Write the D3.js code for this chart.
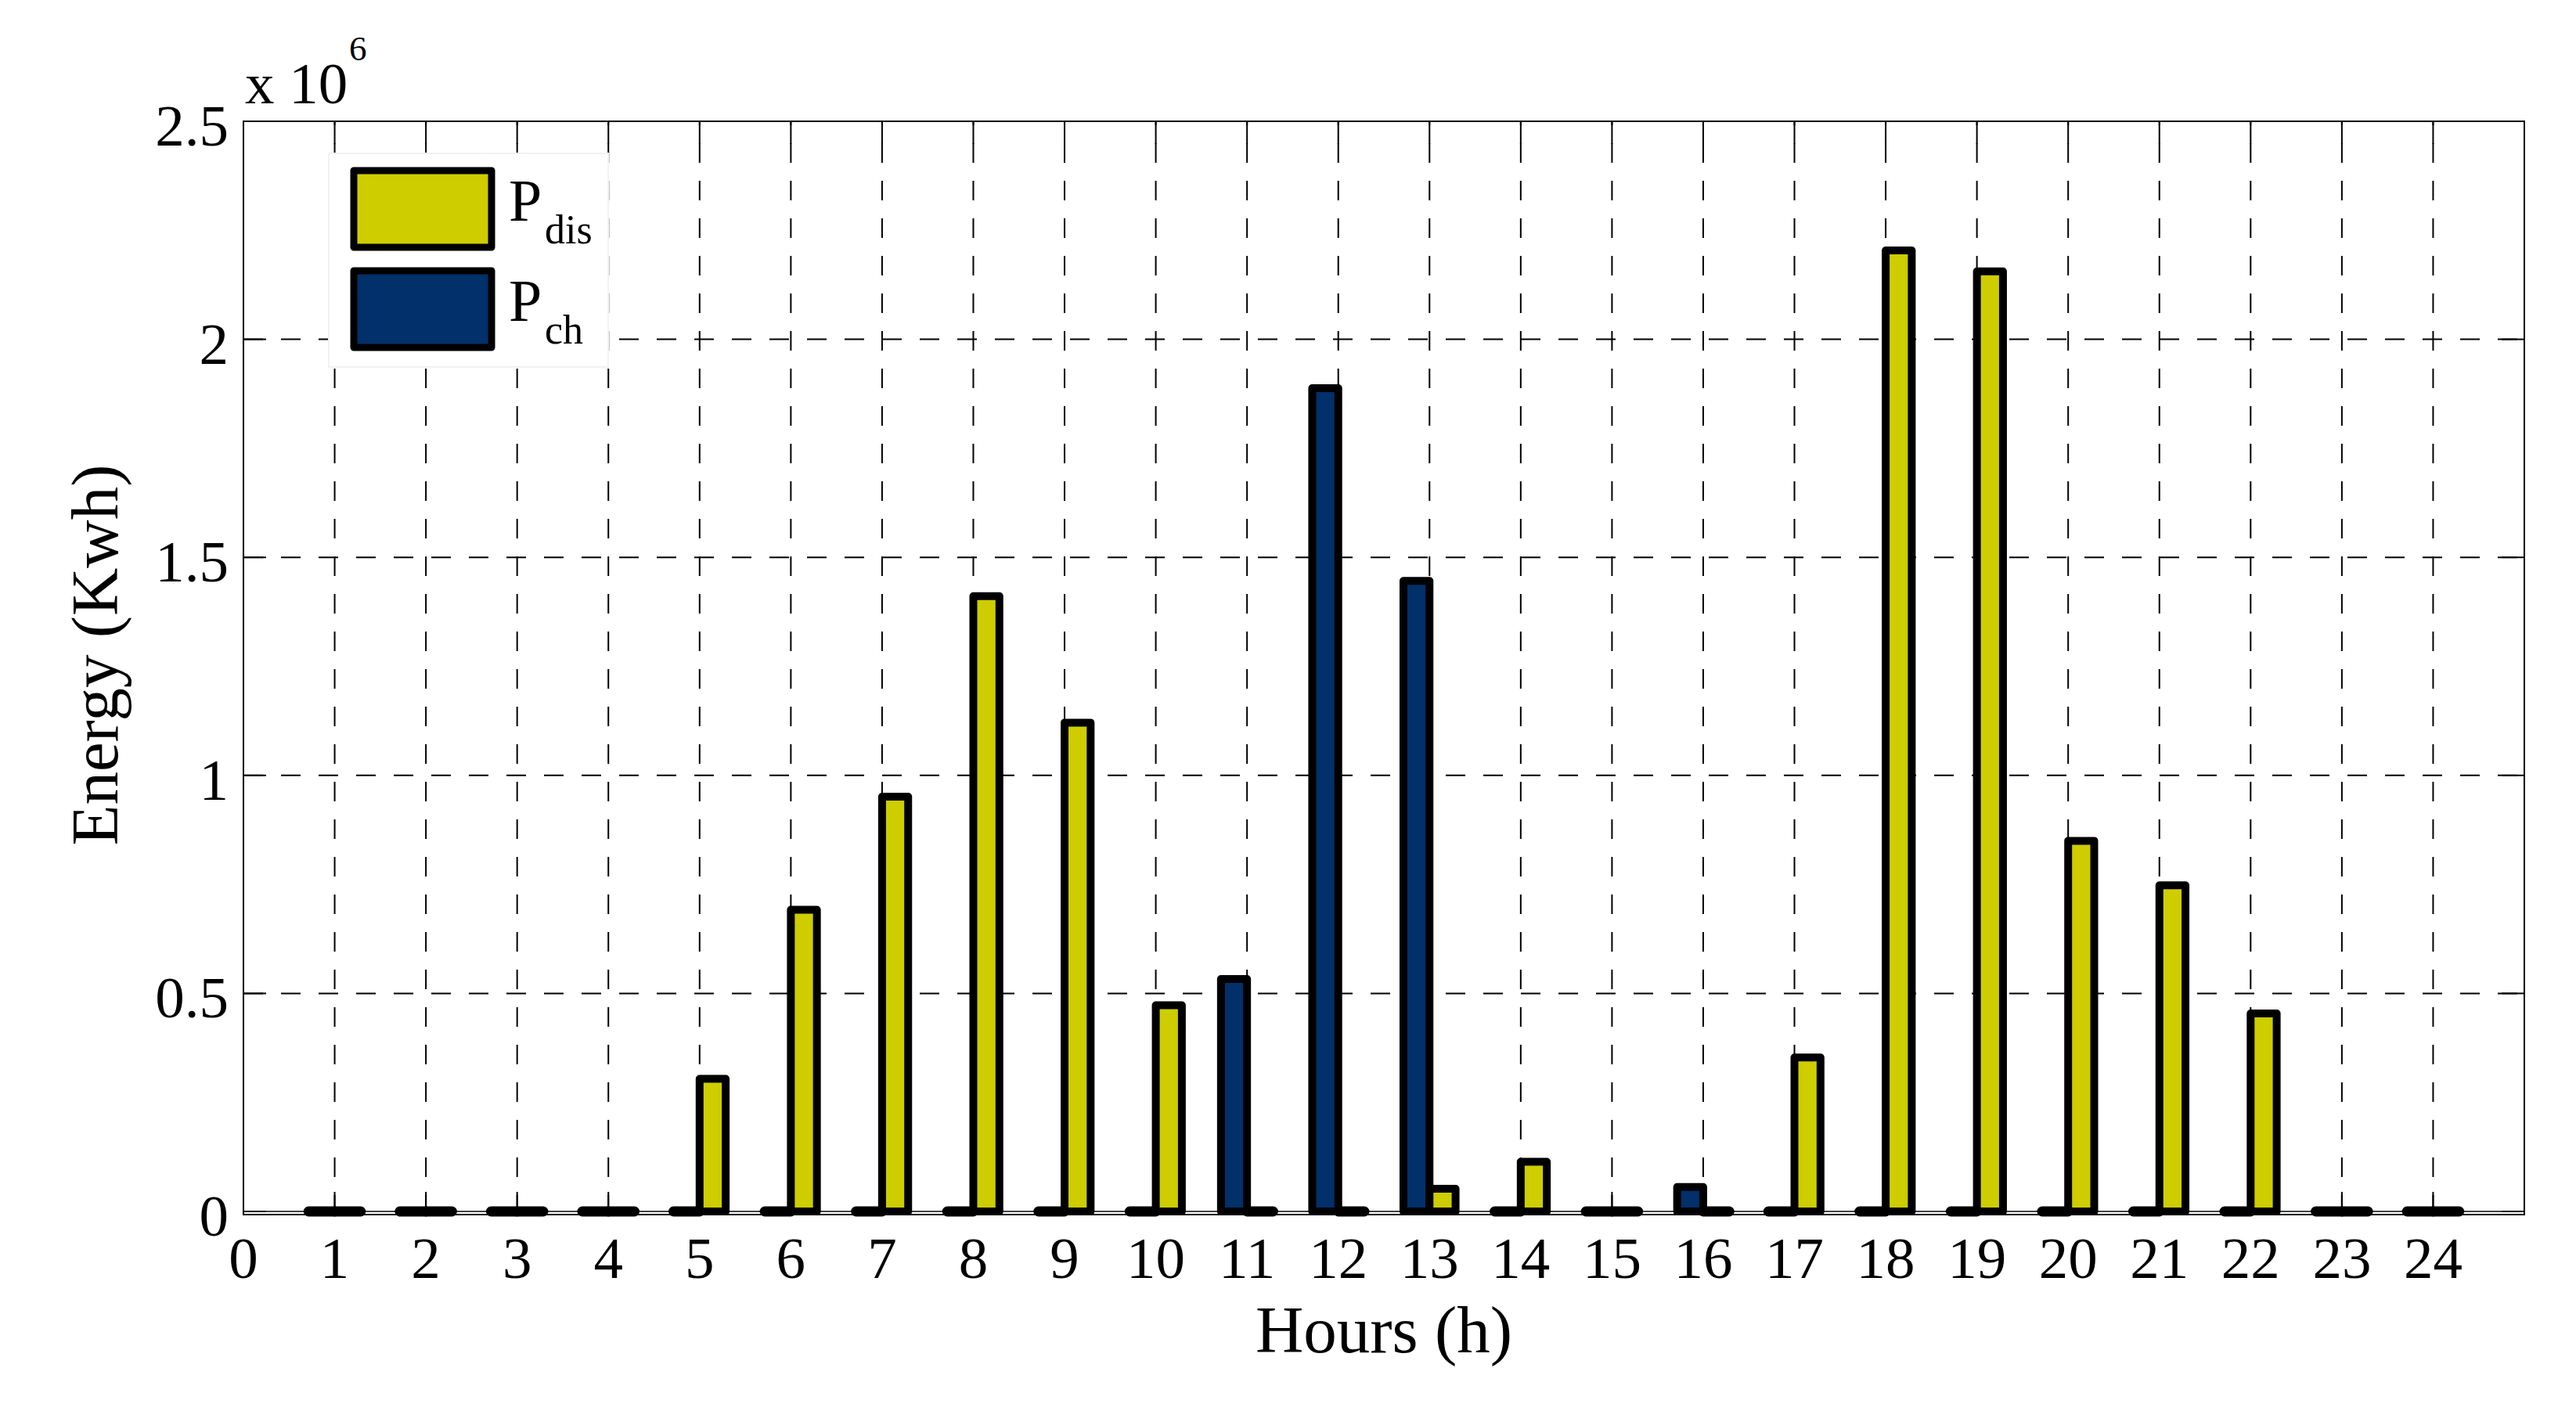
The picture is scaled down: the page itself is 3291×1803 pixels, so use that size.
<!DOCTYPE html>
<html><head><meta charset="utf-8">
<script src="https://cdn.jsdelivr.net/npm/d3@7"></script>
<style>
body{margin:0;background:#fff}
svg{display:block}
text{font-family:"Liberation Serif","Times New Roman",serif;fill:#000}
</style>
</head><body>
<svg id="c" width="3291" height="1803"></svg>
<script>
// ---- data ----
const hours = [1,2,3,4,5,6,7,8,9,10,11,12,13,14,15,16,17,18,19,20,21,22,23,24];
const pDis  = [0,0,0,0,304000,692000,951000,1411000,1121000,473000,0,0,52000,114000,0,0,353000,2204000,2156000,850000,748000,454000,0,0];
const pCh   = [0,0,0,0,0,0,0,0,0,0,533000,1888000,1446000,0,0,56000,0,0,0,0,0,0,0,0];
const xTicks = [0,1,2,3,4,5,6,7,8,9,10,11,12,13,14,15,16,17,18,19,20,21,22,23,24];
const yTicks = [0,500000,1000000,1500000,2000000,2500000];
const yTickLabels = ["0","0.5","1","1.5","2","2.5"];
const legendMain = ["P","P"];
const legendSub = ["dis","ch"];
const xLabel = "Hours (h)";
const yLabel = "Energy (Kwh)";
const exponentBase = "x 10";
const exponentPow = "6";

// ---- styles ----
const colDis = "#cdcd00", colCh = "#01306a";
const W = 3291, H = 1803;
const L = 311, R = 3225, T = 155, B0 = 1548;
const axB = B0 + 4;
const x = d3.scaleLinear().domain([0,25]).range([L,R]);
const y = d3.scaleLinear().domain([0,2.5e6]).range([B0,T]);
const bw = 2/7; // bar width in hour units

const svg = d3.select("#c");
svg.append("rect").attr("width",W).attr("height",H).attr("fill","#fff");

// grid
const grid = svg.append("g").attr("stroke","#000").attr("stroke-width",2).attr("stroke-dasharray","25 23");
grid.selectAll("line.v").data(xTicks.filter(d=>d>0)).join("line").attr("class","v")
  .attr("x1",d=>x(d)).attr("x2",d=>x(d)).attr("y1",axB).attr("y2",T);
grid.selectAll("line.h").data(yTicks.filter(d=>d>0 && d<2.5e6)).join("line").attr("class","h")
  .attr("x1",L).attr("x2",R).attr("y1",d=>y(d)).attr("y2",d=>y(d));

// ticks
const tk = svg.append("g").attr("stroke","#000").attr("stroke-width",2);
const tl = 29;
tk.selectAll("line.tb").data(xTicks).join("line").attr("class","tb")
  .attr("x1",d=>x(d)).attr("x2",d=>x(d)).attr("y1",axB).attr("y2",axB-tl);
tk.selectAll("line.tt").data(xTicks).join("line").attr("class","tt")
  .attr("x1",d=>x(d)).attr("x2",d=>x(d)).attr("y1",T).attr("y2",T+tl);
tk.selectAll("line.tl").data(yTicks).join("line").attr("class","tl")
  .attr("x1",L).attr("x2",L+tl).attr("y1",d=>y(d)).attr("y2",d=>y(d));
tk.selectAll("line.tr").data(yTicks).join("line").attr("class","tr")
  .attr("x1",R).attr("x2",R-tl).attr("y1",d=>y(d)).attr("y2",d=>y(d));

// axes box and baseline
svg.append("rect").attr("x",L).attr("y",T).attr("width",R-L).attr("height",axB-T)
  .attr("fill","none").attr("stroke","#000").attr("stroke-width",2);
svg.append("line").attr("x1",L).attr("x2",R).attr("y1",y(0)).attr("y2",y(0))
  .attr("stroke","#000").attr("stroke-width",1.6);

// bars
const barPath = (x0,x1,v) => `M${x0},${y(0)}V${y(v)}H${x1}V${y(0)}Z`;
const bars = svg.append("g").attr("stroke","#000").attr("stroke-linejoin","round");
bars.selectAll("path.ch").data(hours.map((h,i)=>({h,v:pCh[i]}))).join("path").attr("class","ch")
  .attr("d",d=>barPath(x(d.h-bw),x(d.h),d.v)).attr("fill",colCh)
  .attr("stroke-width",d=>d.v===0?13:10);
bars.selectAll("path.dis").data(hours.map((h,i)=>({h,v:pDis[i]}))).join("path").attr("class","dis")
  .attr("d",d=>barPath(x(d.h),x(d.h+bw),d.v)).attr("fill",colDis)
  .attr("stroke-width",d=>d.v===0?13:10);

// tick labels
svg.append("g").selectAll("text").data(xTicks).join("text")
  .attr("x",d=>x(d)).attr("y",1633).attr("text-anchor","middle")
  .attr("font-size",75).text(d=>d);
svg.append("g").selectAll("text").data(yTicks).join("text")
  .attr("x",L-19).attr("y",d=>y(d)+31).attr("text-anchor","end")
  .attr("font-size",75).text((d,i)=>yTickLabels[i]);

// exponent
svg.append("text").attr("x",313).attr("y",132).attr("font-size",75).text(exponentBase);
svg.append("text").attr("x",446).attr("y",77).attr("font-size",45).text(exponentPow);

// axis labels
svg.append("text").attr("x",(L+R)/2).attr("y",1728).attr("text-anchor","middle")
  .attr("font-size",85).text(xLabel);
svg.append("text").attr("transform","translate(150,837) rotate(-90)").attr("text-anchor","middle")
  .attr("font-size",85).text(yLabel);

// legend
const lg = svg.append("g");
lg.append("rect").attr("x",420).attr("y",196).attr("width",357).attr("height",273)
  .attr("fill","#fff").attr("stroke","#f2f2f2").attr("stroke-width",2);
const legCols = [colDis,colCh];
const legY = [218,346];
legCols.forEach((c,i)=>{
  lg.append("rect").attr("x",452).attr("y",legY[i]).attr("width",176).attr("height",98)
    .attr("fill",c).attr("stroke","#000").attr("stroke-width",9).attr("stroke-linejoin","round");
  lg.append("text").attr("x",650).attr("y",legY[i]+64).attr("font-size",76).text(legendMain[i]);
  lg.append("text").attr("x",696).attr("y",legY[i]+93).attr("font-size",52).text(legendSub[i]);
});
</script>
</body></html>
